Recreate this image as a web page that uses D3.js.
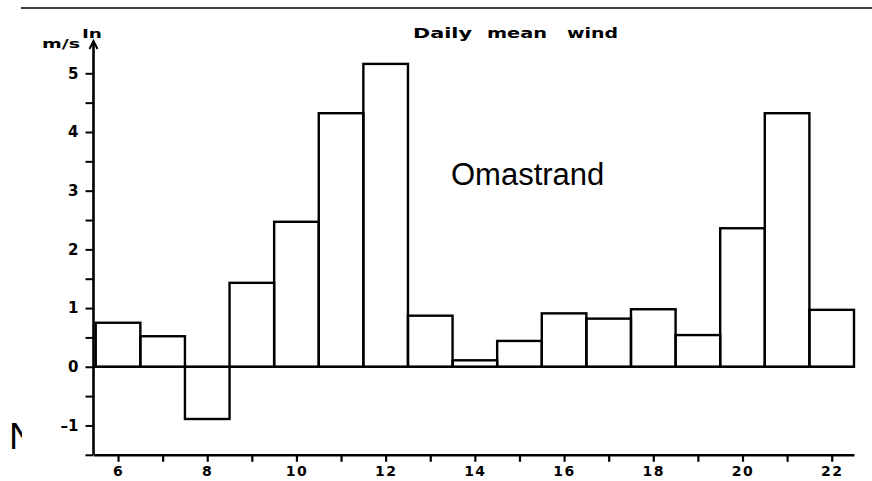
<!DOCTYPE html>
<html>
<head>
<meta charset="utf-8">
<script src="https://cdn.jsdelivr.net/npm/d3@7"></script>
<style>
  body { margin: 0; background: #fff; }
  text { fill: #000; }
</style>
</head>
<body>
<script>
// days of the month and daily mean wind (m/s, "In" direction)
var days = [6, 7, 8, 9, 10, 11, 12, 13, 14, 15, 16, 17, 18, 19, 20, 21, 22];
var wind = [0.75, 0.52, -0.89, 1.43, 2.47, 4.32, 5.16, 0.87, 0.11, 0.44, 0.91, 0.82, 0.98, 0.54, 2.36, 4.32, 0.97];
var xTickValues = [6, 7, 8, 9, 10, 11, 12, 13, 14, 15, 16, 17, 18, 19, 20, 21, 22];
var xTickLabels = [6, 8, 10, 12, 14, 16, 18, 20, 22];
var yTickValues = [-1.5, -1, -0.5, 0, 0.5, 1, 1.5, 2, 2.5, 3, 3.5, 4, 4.5, 5];
var yTickLabels = [-1, 0, 1, 2, 3, 4, 5];
var titleWords = ["Daily", "mean", "wind"];

var width = 872, height = 481;

var svg = d3.select("body").append("svg")
  .attr("width", width)
  .attr("height", height);

var x = d3.scaleLinear().domain([5.45, 22.5]).range([93.5, 854]);
var y = d3.scaleLinear().domain([-1.5, 5]).range([454.8, 73.3]);

// top rule
svg.append("line")
  .attr("x1", 21).attr("x2", width).attr("y1", 8).attr("y2", 8)
  .attr("stroke", "#000").attr("stroke-width", 1.5);

// bars
svg.selectAll("rect.bar").data(days).enter()
  .append("rect")
  .attr("class", "bar")
  .attr("x", function(d) { return x(d - 0.5); })
  .attr("width", function(d) { return x(d + 0.5) - x(d - 0.5); })
  .attr("y", function(d, i) { return y(Math.max(0, wind[i])); })
  .attr("height", function(d, i) { return Math.abs(y(wind[i]) - y(0)); })
  .attr("fill", "none")
  .attr("stroke", "#000")
  .attr("stroke-width", 2.4);

// zero line
svg.append("line")
  .attr("x1", x(5.45)).attr("x2", x(22.5))
  .attr("y1", y(0)).attr("y2", y(0))
  .attr("stroke", "#000").attr("stroke-width", 2.2);

// y axis
var yAxis = d3.axisLeft(y)
  .tickValues(yTickValues)
  .tickSize(8)
  .tickFormat(function(d) { return yTickLabels.indexOf(d) >= 0 ? (d < 0 ? "\u2013" + Math.abs(d) : d) : ""; });

var gy = svg.append("g")
  .attr("transform", "translate(" + x(5.45) + ",0)")
  .call(yAxis);
gy.select(".domain").remove();
gy.selectAll(".tick line").attr("stroke", "#000").attr("stroke-width", 2);
gy.selectAll(".tick text")
  .attr("x", -15)
  .style("font-family", "DejaVu Sans")
  .style("font-weight", "bold")
  .style("font-size", "15px");

gy.append("line")
  .attr("x1", 0).attr("x2", 0)
  .attr("y1", y(-1.5)).attr("y2", 43)
  .attr("stroke", "#000").attr("stroke-width", 2.6);
// arrow head
gy.append("path")
  .attr("d", "M-4,49 L0,41 L4,49")
  .attr("fill", "none").attr("stroke", "#000").attr("stroke-width", 2);

// x axis
var xAxis = d3.axisBottom(x)
  .tickValues(xTickValues)
  .tickSize(7)
  .tickSizeOuter(0)
  .tickFormat(function(d) { return xTickLabels.indexOf(d) >= 0 ? d : ""; });

var gx = svg.append("g")
  .attr("transform", "translate(0," + y(-1.5) + ")")
  .call(xAxis);
gx.select(".domain").attr("stroke", "#000").attr("stroke-width", 2.6);
gx.selectAll(".tick line").attr("stroke", "#000").attr("stroke-width", 2.2);
gx.selectAll(".tick text")
  .attr("y", 11)
  .style("font-family", "DejaVu Sans")
  .style("font-weight", "bold")
  .style("font-size", "14px")
  .style("letter-spacing", "1.5px");

// axis unit labels
svg.append("text")
  .attr("x", 42).attr("y", 48)
  .attr("textLength", 38)
  .attr("lengthAdjust", "spacingAndGlyphs")
  .style("font-family", "DejaVu Sans")
  .style("font-weight", "bold")
  .style("font-size", "12px")
  .text("m/s");
svg.append("text")
  .attr("x", 82).attr("y", 38)
  .attr("textLength", 20)
  .attr("lengthAdjust", "spacingAndGlyphs")
  .style("font-family", "DejaVu Sans")
  .style("font-weight", "bold")
  .style("font-size", "12px")
  .text("In");

// title, one word at a time
var titleX = [413, 487, 567], titleW = [59, 60, 51];
svg.append("g").selectAll("text").data(titleWords).enter()
  .append("text")
  .attr("x", function(d, i) { return titleX[i]; })
  .attr("y", 38)
  .attr("textLength", function(d, i) { return titleW[i]; })
  .attr("lengthAdjust", "spacingAndGlyphs")
  .style("font-family", "DejaVu Sans")
  .style("font-weight", "bold")
  .style("font-size", "14px")
  .text(function(d) { return d; });

// station name
svg.append("text")
  .attr("x", 451).attr("y", 185)
  .style("font-family", "Liberation Sans")
  .style("font-size", "31px")
  .text("Omastrand");

// clipped stray letter at left edge
svg.append("clipPath").attr("id", "leftclip")
  .append("rect").attr("x", 0).attr("y", 400).attr("width", 22).attr("height", 60);
svg.append("text")
  .attr("x", 9).attr("y", 449)
  .attr("clip-path", "url(#leftclip)")
  .style("font-family", "Liberation Sans")
  .style("font-size", "37px")
  .text("N");
</script>
</body>
</html>
